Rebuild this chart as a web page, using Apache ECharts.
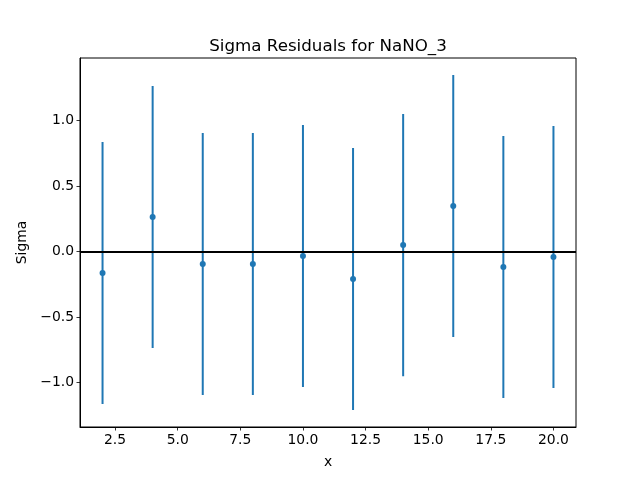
<!DOCTYPE html>
<html>
<head>
<meta charset="utf-8">
<script src="https://cdn.jsdelivr.net/npm/echarts@6/dist/echarts.min.js"></script>
<style>html,body{margin:0;padding:0;background:#fff}#c{width:640px;height:480px}</style>
</head>
<body>
<div id="c"></div>
<script>
const xValues = [2, 4, 6, 8, 10, 12, 14, 16, 18, 20];
const sigmaValues = [-0.163, 0.265, -0.094, -0.094, -0.033, -0.208, 0.05, 0.349, -0.117, -0.04];
const errors = [1, 1, 1, 1, 1, 1, 1, 1, 1, 1];
const xTicks = [2.5, 5.0, 7.5, 10.0, 12.5, 15.0, 17.5, 20.0];
const yTicks = [-1.0, -0.5, 0.0, 0.5, 1.0];

const blue = '#1f77b4';
const font = 'DejaVu Sans';
const points = xValues.map((x, i) => [x, sigmaValues[i], errors[i]]);
const fmt = v => v.toFixed(1).replace('-', '\u2212');

const chart = echarts.init(document.getElementById('c'), null, {renderer: 'canvas'});
chart.setOption({
  animation: false,
  backgroundColor: '#fff',
  title: {
    text: 'Sigma Residuals for NaNO_3',
    left: 323, top: 33, textAlign: 'center',
    textStyle: {fontFamily: font, fontSize: 16.7, fontWeight: 'normal', color: '#000'}
  },
  grid: {left: 80, right: 64, top: 58, bottom: 53, show: true, borderColor: '#000', borderWidth: 1, backgroundColor: 'transparent'},
  xAxis: {
    type: 'value', min: 1.1, max: 20.9,
    name: 'x', nameLocation: 'middle', nameGap: 28,
    nameTextStyle: {fontFamily: font, fontSize: 13.9, color: '#000'},
    axisLine: {show: true, onZero: false, lineStyle: {color: '#000', width: 1}},
    axisTick: {show: true, length: 3.5, lineStyle: {color: '#000', width: 0.8}, customValues: xTicks},
    axisLabel: {fontFamily: font, fontSize: 13.9, color: '#000', margin: 6, customValues: xTicks, formatter: fmt},
    splitLine: {show: false}
  },
  yAxis: {
    type: 'value', min: -1.338, max: 1.478,
    name: 'Sigma', nameLocation: 'middle', nameGap: 50,
    nameTextStyle: {fontFamily: font, fontSize: 13.9, color: '#000'},
    axisLine: {show: true, onZero: false, lineStyle: {color: '#000', width: 1}},
    axisTick: {show: true, length: 3.5, lineStyle: {color: '#000', width: 0.8}, customValues: yTicks},
    axisLabel: {fontFamily: font, fontSize: 13.9, color: '#000', margin: 6, customValues: yTicks, formatter: fmt},
    splitLine: {show: false}
  },
  series: [
    {
      type: 'custom',
      data: points,
      z: 2,
      renderItem: function (params, api) {
        const x = api.value(0), y = api.value(1), e = api.value(2);
        const p1 = api.coord([x, y - e]);
        const p2 = api.coord([x, y + e]);
        return {
          type: 'line',
          shape: {x1: p1[0], y1: p1[1], x2: p2[0], y2: p2[1]},
          style: {stroke: blue, lineWidth: 2}
        };
      }
    },
    {
      type: 'scatter',
      data: points.map(p => [p[0], p[1]]),
      symbolSize: 6,
      itemStyle: {color: blue, opacity: 1},
      z: 3
    },
    {
      type: 'line',
      data: [],
      z: 5,
      markLine: {
        silent: true,
        symbol: ['none', 'none'],
        label: {show: false},
        lineStyle: {color: '#000', width: 2, type: 'solid'},
        data: [{yAxis: 0}]
      }
    }
  ]
});
</script>
</body>
</html>
